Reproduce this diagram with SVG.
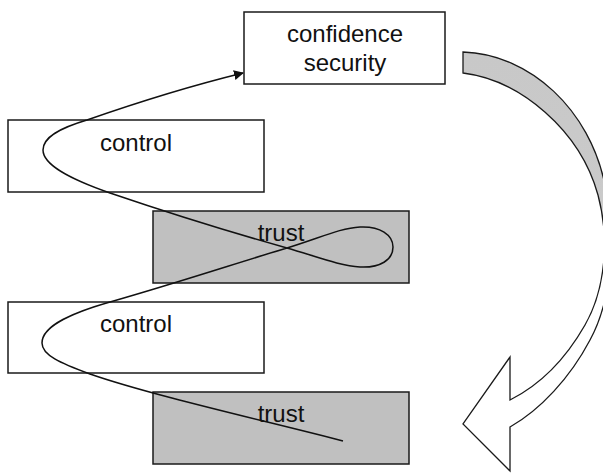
<svg xmlns="http://www.w3.org/2000/svg" width="603" height="473" viewBox="0 0 603 473">
  <style>
    .box { stroke: #1a1a1a; stroke-width: 1.5; }
    .plain { fill: #ffffff; }
    .shaded { fill: #c0c0c0; }
    .label { font-family: "Liberation Sans", Arial, sans-serif; font-size: 24px; fill: #111111; text-anchor: middle; }
    .wire { fill: none; stroke: #111111; stroke-width: 1.5; }
  </style>
  <defs>
    <marker id="tip" viewBox="0 0 10 10" refX="9" refY="5" markerWidth="10" markerHeight="10" markerUnits="userSpaceOnUse" orient="auto">
      <path d="M0,0 L10,5 L0,10 Z" fill="#111111"/>
    </marker>
    <linearGradient id="fade" gradientUnits="userSpaceOnUse" x1="0" y1="52" x2="0" y2="470">
      <stop offset="0" stop-color="#c8c8c8"/>
      <stop offset="0.36" stop-color="#cacaca"/>
      <stop offset="0.46" stop-color="#ffffff"/>
      <stop offset="1" stop-color="#ffffff"/>
    </linearGradient>
  </defs>

  <rect width="603" height="473" fill="#ffffff"/>

  <!-- curved block arrow on the right -->
  <g id="cycle-arrow">
    <path d="M463,52 C530,54 590,110 605,185 C616,240 612,300 590,340 C570,378 540,410 510,427 L510,471 L463,424 L510,357 L510,400 C540,385 565,360 585,325 C605,290 610,240 598,195 C580,130 520,80 463,73 Z" fill="url(#fade)" stroke="#1a1a1a" stroke-width="1.3" stroke-linejoin="miter"/>
  </g>

  <g id="confidence">
    <rect class="box plain" x="244" y="12" width="201" height="72"/>
    <text class="label" x="345" y="42">confidence</text>
    <text class="label" x="345" y="71">security</text>
  </g>

  <g id="control-1">
    <rect class="box plain" x="8" y="120" width="256" height="72"/>
    <text class="label" x="136" y="151">control</text>
  </g>

  <g id="trust-1">
    <rect class="box shaded" x="153" y="211" width="256" height="72"/>
    <text class="label" x="281" y="241">trust</text>
  </g>

  <g id="control-2">
    <rect class="box plain" x="8" y="302" width="256" height="71"/>
    <text class="label" x="136" y="332">control</text>
  </g>

  <g id="trust-2">
    <rect class="box shaded" x="153" y="392" width="256" height="72"/>
    <text class="label" x="281" y="422">trust</text>
  </g>

  <!-- winding path from the lower trust box up to confidence -->
  <g id="connectors">
    <path class="wire" marker-end="url(#tip)" d="M343,441 C270,422 150,395 90,374 C60,363 42,355 42,343 C42,325 75,312 110,302 C180,282 240,262 287,248 C320,238 340,228 360,227 C380,226 393,235 393,247 C393,260 380,268 360,267 C340,266 315,256 287,248 C230,232 160,210 110,193 C70,179 43,165 43,150 C43,137 60,128 87,120 C130,105 190,86 243,73"/>
  </g>
</svg>
